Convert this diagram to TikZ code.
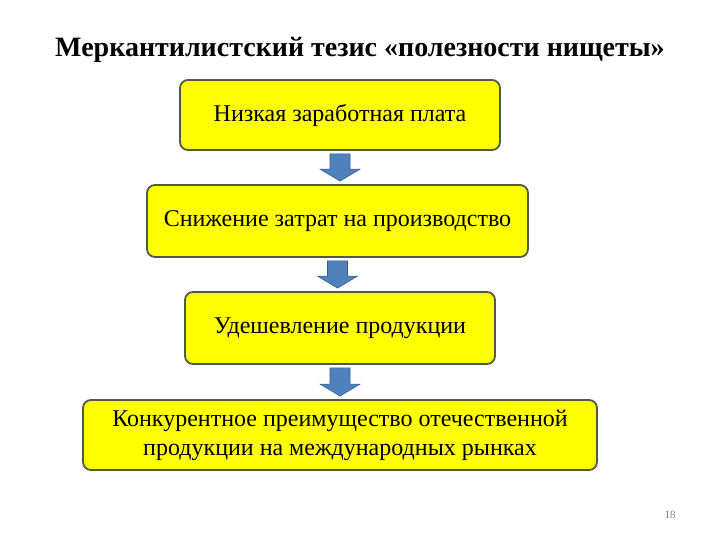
\documentclass[tikz,border=0pt]{standalone}
\usepackage{fontspec}
\setmainfont{Liberation Serif}
\usetikzlibrary{calc}
\definecolor{boxfill}{RGB}{255,255,0}
\definecolor{boxline}{RGB}{80,90,70}
\definecolor{arrfill}{RGB}{79,129,189}
\definecolor{arrline}{RGB}{56,93,138}
\tikzset{
  box/.style={draw=boxline, line width=1.8pt, fill=boxfill, rounded corners=8pt, align=center, font=\fontsize{24}{29}\selectfont, inner sep=0pt},
  barrow/.style={draw=arrline, line width=0.6pt, fill=arrfill}
}
\newcommand{\blockarr}[2]{%
  \path[barrow] let \p1=($(#1.south)+(0,-3pt)$), \p2=($(#2.north)+(0,3pt)$) in
    (\x1-10pt,\y1) -- (\x1+10pt,\y1) -- (\x1+10pt,{\y2+12pt}) -- (\x1+20pt,{\y2+12pt})
    -- (\x1,\y2) -- (\x1-20pt,{\y2+12pt}) -- (\x1-10pt,{\y2+12pt}) -- cycle;}
\begin{document}
\begin{tikzpicture}[x=1pt,y=1pt]
\useasboundingbox[fill=white] (0,0) rectangle (720,-540);
\node[font=\bfseries\fontsize{28}{33}\selectfont] (title) at (360,-50) {Меркантилистский тезис «полезности нищеты»};
\node[box, minimum width=320, minimum height=70] (b1) at (340,-115) {Низкая заработная плата};
\node[box, minimum width=381, minimum height=72] (b2) at (337.5,-221) {Снижение затрат на производство};
\node[box, minimum width=310, minimum height=72] (b3) at (340,-328) {Удешевление продукции};
\node[box, minimum width=514, minimum height=70] (b4) at (340,-435) {Конкурентное преимущество отечественной\\продукции на международных рынках};
\node[font=\fontsize{11}{13}\selectfont, text=gray] (pg) at (670,-515) {18};
\blockarr{b1}{b2}
\blockarr{b2}{b3}
\blockarr{b3}{b4}
\end{tikzpicture}
\end{document}
